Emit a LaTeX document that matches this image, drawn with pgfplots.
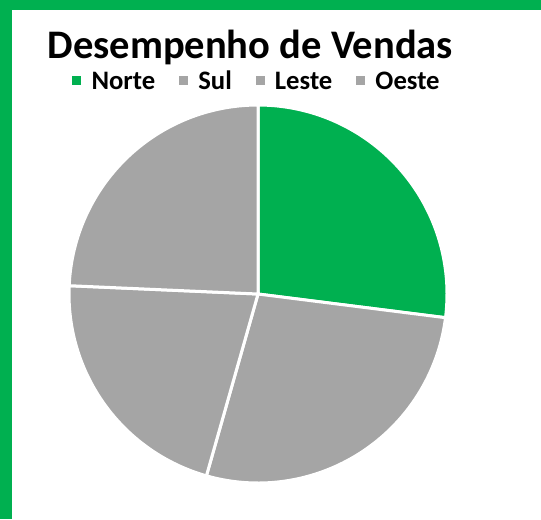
\documentclass[border=0pt]{standalone}
\usepackage{pgfplots}
\usepackage{pgfplotstable}
\pgfplotsset{compat=1.18}
\usepackage{fontspec}
\setmainfont{Carlito}
\definecolor{cgreen}{HTML}{00B050}
\definecolor{cgray}{HTML}{A5A5A5}
\pgfplotstableread{
region value
Norte 27.0
Sul 27.4
Leste 21.3
Oeste 24.3
}\salesdata
\newcommand{\legsq}[1]{\textcolor{#1}{\rule[3.2pt]{6.75pt}{6.75pt}}\hspace{7.6pt}}
\begin{document}
\begin{tikzpicture}
\pgfplotstablegetelem{0}{value}\of\salesdata\let\vA\pgfplotsretval
\pgfplotstablegetelem{1}{value}\of\salesdata\let\vB\pgfplotsretval
\pgfplotstablegetelem{2}{value}\of\salesdata\let\vC\pgfplotsretval
\pgfplotstablegetelem{3}{value}\of\salesdata\let\vD\pgfplotsretval
\pgfmathsetmacro\tot{\vA+\vB+\vC+\vD}
\pgfmathsetmacro\aA{90}
\pgfmathsetmacro\aB{\aA-360*\vA/\tot}
\pgfmathsetmacro\aC{\aB-360*\vB/\tot}
\pgfmathsetmacro\aD{\aC-360*\vC/\tot}
\pgfmathsetmacro\aE{\aD-360*\vD/\tot}
\fill[white] (0,0) rectangle (405.75pt,-389.25pt);
\fill[cgreen] (0,0) rectangle (405.75pt,-7.5pt);
\fill[cgreen] (0,0) rectangle (9pt,-389.25pt);
\path[use as bounding box] (0,0) rectangle (405.75pt,-389.25pt);
\node[anchor=base west, inner sep=0pt, font=\fontsize{30.4}{36}\selectfont\bfseries] at (35.5pt,-43.5pt) {Desempenho de Vendas};
\node[anchor=base, inner sep=0pt, font=\fontsize{20}{24}\selectfont\bfseries] at (192pt,-67pt)
  {\legsq{cgreen}Norte\hspace{18pt}\legsq{cgray}Sul\hspace{18pt}\legsq{cgray}Leste\hspace{18pt}\legsq{cgray}Oeste};
\begin{axis}[
  at={(193.5pt,-220.5pt)}, anchor=center,
  scale only axis, width=283.5pt, height=283.5pt,
  xmin=-1, xmax=1, ymin=-1, ymax=1,
  hide axis, clip=false,
]
\addplot[fill=cgreen, draw=white, line width=2.25pt, domain=\aB:\aA, samples=80, variable=\t] ({cos(\t)},{sin(\t)}) -- (axis cs:0,0) -- cycle;
\addplot[fill=cgray, draw=white, line width=2.25pt, domain=\aC:\aB, samples=80, variable=\t] ({cos(\t)},{sin(\t)}) -- (axis cs:0,0) -- cycle;
\addplot[fill=cgray, draw=white, line width=2.25pt, domain=\aD:\aC, samples=80, variable=\t] ({cos(\t)},{sin(\t)}) -- (axis cs:0,0) -- cycle;
\addplot[fill=cgray, draw=white, line width=2.25pt, domain=\aE:\aD, samples=80, variable=\t] ({cos(\t)},{sin(\t)}) -- (axis cs:0,0) -- cycle;
\end{axis}
\end{tikzpicture}
\end{document}
